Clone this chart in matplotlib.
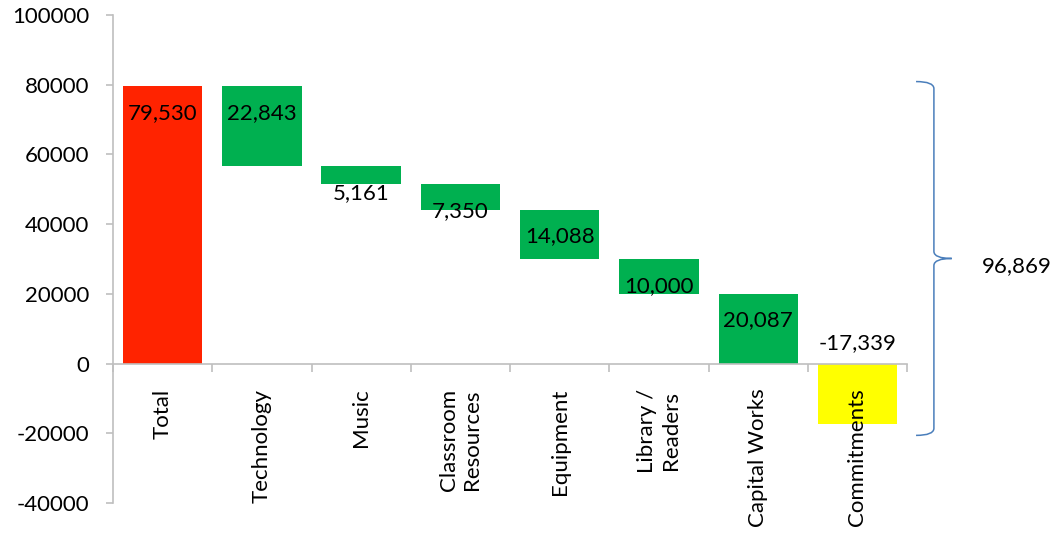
"""Budget waterfall: total allocation split by area, with a brace for the grand total."""

import matplotlib

matplotlib.use("Agg")
import matplotlib.pyplot as plt
from matplotlib.path import Path
from matplotlib.patches import PathPatch
from matplotlib.ticker import FixedLocator

plt.rcParams["font.family"] = ["Lato", "DejaVu Sans"]
plt.rcParams["axes.unicode_minus"] = False

CATEGORIES = ["Total", "Technology", "Music", "Classroom\nResources", "Equipment",
              "Library /\nReaders", "Capital Works", "Commitments"]
TOTAL = 79530
STEPS = [22843, 5161, 7350, 14088, 10000, 20087]  # spent from the total, in order
COMMITMENTS = -17339
LABELS = ["79,530", "22,843", "5,161", "7,350", "14,088", "10,000", "20,087", "-17,339"]
BRACE_TEXT = "96,869"
Y_TICKS = [-40000, -20000, 0, 20000, 40000, 60000, 80000, 100000]

RED, GREEN, YELLOW = "#ff2300", "#00b050", "#ffff00"
AXIS_GREY = "#bfbfbf"
BRACE_BLUE = "#4a7ebb"


def waterfall():
    """Return (bottom, height, colour) for every bar."""
    bars = [(0, TOTAL, RED)]
    level = TOTAL
    for step in STEPS:
        level -= step
        bars.append((level, step, GREEN))
    bars.append((0, COMMITMENTS, YELLOW))
    return bars


def draw_brace(ax, x, lo, hi, width, color):
    """Right-pointing curly brace spanning lo..hi at data x."""
    mid = (lo + hi) / 2
    k = (hi - lo) * 0.02
    verts = [
        (x - width, hi), (x, hi), (x, hi - k),
        (x, mid + k),
        (x, mid), (x + width, mid),
        (x, mid), (x, mid - k),
        (x, lo + k),
        (x, lo), (x - width, lo),
    ]
    codes = [Path.MOVETO, Path.CURVE3, Path.CURVE3,
             Path.LINETO,
             Path.CURVE3, Path.CURVE3,
             Path.CURVE3, Path.CURVE3,
             Path.LINETO,
             Path.CURVE3, Path.CURVE3]
    ax.add_patch(PathPatch(Path(verts, codes), fill=False, ec=color, lw=1.1,
                           clip_on=False))


def main() -> None:
    fig = plt.figure(figsize=(10.56, 5.51), dpi=100)
    ax = fig.add_axes([0.107, 0.0871, 0.752, 0.8857])
    ax.set_axisbelow(False)  # category labels sit on top of the negative bar

    xs = list(range(len(CATEGORIES)))
    for x, (bottom, height, color), label in zip(xs, waterfall(), LABELS):
        ax.bar(x, height, bottom=bottom, width=0.8, color=color, zorder=2)
        if height > 0:
            ax.annotate(label, (x, bottom + height), xytext=(0, -27),
                        textcoords="offset pixels", ha="center", va="center",
                        fontsize=16, zorder=3)
        else:
            ax.annotate(label, (x, 0), xytext=(0, 20),
                        textcoords="offset pixels", ha="center", va="center",
                        fontsize=16, zorder=3)

    ax.set_xlim(-0.5, len(CATEGORIES) - 0.5)
    ax.set_ylim(-40000, 100000)
    ax.set_yticks(Y_TICKS)

    ax.set_xticks(xs)
    ax.set_xticklabels(CATEGORIES)
    ax.xaxis.set_minor_locator(FixedLocator([x - 0.5 for x in xs] + [xs[-1] + 0.5]))
    ax.tick_params(axis="x", which="major", length=0, pad=18, labelrotation=90,
                   labelsize=16)
    ax.tick_params(axis="x", which="minor", length=6, width=1.2, color=AXIS_GREY)
    ax.tick_params(axis="y", length=5, width=1.2, color=AXIS_GREY, pad=12,
                   labelsize=16)
    for lab in ax.get_xticklabels():
        lab.set_multialignment("right")

    for side in ("top", "right"):
        ax.spines[side].set_visible(False)
    ax.spines["bottom"].set_position(("data", 0))
    for side in ("left", "bottom"):
        ax.spines[side].set_color(AXIS_GREY)
        ax.spines[side].set_linewidth(1.2)

    # brace for grand total: total plus commitments
    brace_x = len(CATEGORIES) - 0.5 + 0.27
    draw_brace(ax, brace_x, -20600, 80900, 0.18, BRACE_BLUE)
    ax.text(brace_x + 0.48, 28000, BRACE_TEXT, fontsize=16, ha="left", va="center",
            clip_on=False)

    fig.savefig("out.png", dpi=100)


if __name__ == "__main__":
    main()
